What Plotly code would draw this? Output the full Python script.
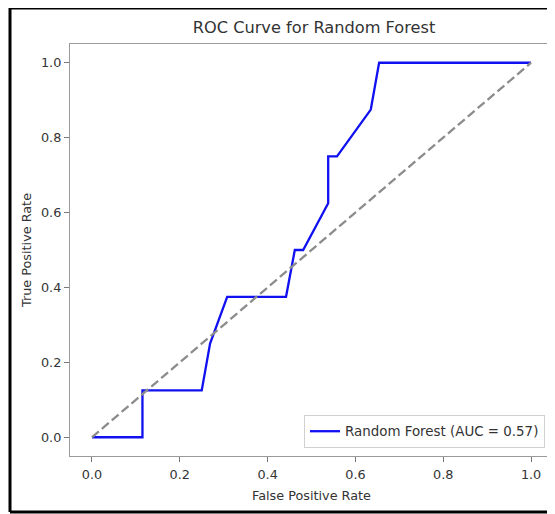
import plotly.graph_objects as go

# ROC curve points
fpr = [0.0, 0.115, 0.115, 0.25, 0.269, 0.308, 0.442, 0.462, 0.481, 0.538, 0.538, 0.558, 0.635, 0.654, 1.0]
tpr = [0.0, 0.0, 0.125, 0.125, 0.25, 0.375, 0.375, 0.5, 0.5, 0.625, 0.75, 0.75, 0.875, 1.0, 1.0]
chance_x = [0.0, 1.0]
chance_y = [0.0, 1.0]
auc_label = "Random Forest (AUC = 0.57)"
tick_vals = [0.0, 0.2, 0.4, 0.6, 0.8, 1.0]
tick_text = ["0.0", "0.2", "0.4", "0.6", "0.8", "1.0"]

# page has an 8px body margin; figure is sized so it fills the window
OFF = 8
W, H = 555 - OFF, 514 - OFF
# plot area in window pixels
L, R, T, B = 70 - OFF, 553 - OFF, 44 - OFF, 456 - OFF


def px(x):
    return (x - OFF - L) / (R - L)


def py(y):
    return (B - (y - OFF)) / (B - T)


FONT = "DejaVu Sans"
TXT = "#333333"

fig = go.Figure()
fig.add_trace(go.Scatter(x=fpr, y=tpr, mode="lines", name=auc_label,
                         line=dict(color="#1010f0", width=2.3)))
fig.add_trace(go.Scatter(x=chance_x, y=chance_y, mode="lines", showlegend=False,
                         line=dict(color="#8c8c8c", width=2.3, dash="9px,4px")))

axis_common = dict(range=[-0.05, 1.05], tickvals=tick_vals, ticktext=tick_text,
                   showgrid=False, zeroline=False, showline=True, mirror=True,
                   linecolor="#9a9a9a", linewidth=1.2, ticks="outside", ticklen=5,
                   tickcolor="#777777", tickwidth=1,
                   tickfont=dict(family=FONT, size=12.8, color=TXT),
                   automargin=False)

fig.update_layout(
    width=W, height=H,
    margin=dict(l=L, r=W - R, t=T, b=H - B),
    paper_bgcolor="white", plot_bgcolor="white",
    title=dict(text="ROC Curve for Random Forest", xref="paper", x=px(314), xanchor="center",
               y=1 - (27 - OFF) / H, yanchor="middle",
               font=dict(family=FONT, size=16.2, color=TXT)),
    xaxis=dict(axis_common, ticklabelstandoff=2,
               title=dict(text="False Positive Rate", standoff=9,
                          font=dict(family=FONT, size=12.8, color=TXT))),
    yaxis=dict(axis_common,
               title=dict(text="True Positive Rate", standoff=6,
                          font=dict(family=FONT, size=12.8, color=TXT))),
    legend=dict(x=px(545), xanchor="right", y=py(448), yanchor="bottom",
                bgcolor="white", bordercolor="#d0d0d0", borderwidth=1,
                font=dict(family=FONT, size=13.4, color=TXT)),
    showlegend=True,
)

# black frame around the image (left, top, bottom; right side is cut off)
for x0, y0, x1, y1, w in [(10, 7, 10, 512, 3), (10, 8.8, 555, 8.8, 1.6), (10, 512, 555, 512, 3)]:
    fig.add_shape(type="line", xref="paper", yref="paper",
                  x0=px(x0), y0=py(y0), x1=px(x1), y1=py(y1),
                  line=dict(color="black", width=w))

fig.write_html("out.html")
